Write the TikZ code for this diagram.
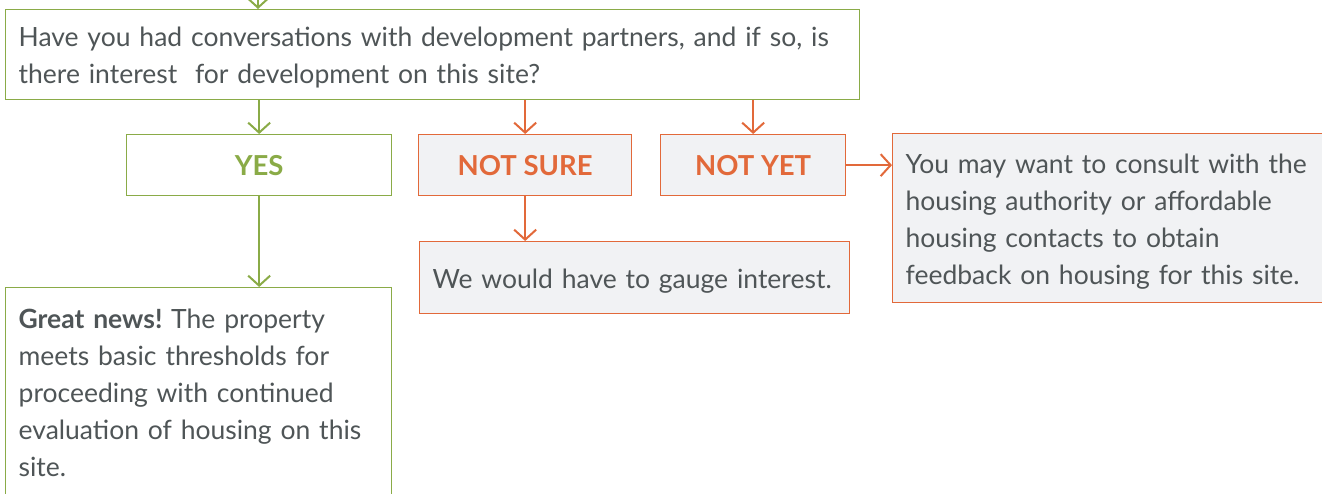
\documentclass[tikz,border=0pt]{standalone}
\usepackage{fontspec}
\setmainfont{Lato}
\usetikzlibrary{arrows.meta}
\definecolor{grn}{HTML}{8AAB47}
\definecolor{org}{HTML}{E2693A}
\definecolor{boxfill}{HTML}{F1F2F4}
\definecolor{txt}{HTML}{4F5557}
\newcommand{\topgap}{\rule{0pt}{26pt}}
\tikzset{
  gbox/.style={draw=grn, line width=1.3pt, fill=white, anchor=north west, inner sep=0pt, text=txt},
  obox/.style={draw=org, line width=1.3pt, fill=boxfill, anchor=north west, inner sep=0pt, text=txt},
  bodytext/.style={font=\fontsize{26.5}{37}\selectfont\frenchspacing, align=left},
  lbl/.style={font=\fontsize{27.5}{30}\selectfont\bfseries},
  arr/.style={line width=2pt, -{Straight Barb[length=10pt,width=22pt,line width=2pt]}},
}
\begin{document}
\begin{tikzpicture}[x=1pt,y=-1pt]
\useasboundingbox (0,0) rectangle (1322,494);
\node[gbox, bodytext, minimum width=854, minimum height=90, text width=828] (top) at (5,9)
  {\topgap Have you had conversations with development partners, and if so, is\\there interest\ \ for development on this site?};
\node[gbox, lbl, text=grn, minimum width=265, minimum height=61] (yes) at (126,134) {YES};
\node[obox, lbl, text=org, minimum width=213, minimum height=61] (ns) at (418,134) {NOT SURE};
\node[obox, lbl, text=org, minimum width=185, minimum height=61] (ny) at (660,134) {NOT YET};
\node[obox, bodytext, minimum width=430, minimum height=169, text width=404] (right) at (892,133)
  {\topgap You may want to consult with the\\housing authority or affordable\\housing contacts to obtain\\feedback on housing for this site.};
\node[obox, bodytext, minimum width=430, minimum height=72, text width=404] (gauge) at (419,241)
  {\topgap We would have to gauge interest.};
\node[gbox, bodytext, minimum width=386, minimum height=211, text width=360] (great) at (5,287)
  {\textbf{Great news!} The property\\meets basic thresholds for\\proceeding with continued\\evaluation of housing on this\\site.};
\coordinate (in) at (258,-4);
\draw[arr, grn] (in) -- (in |- top.north);
\draw[arr, grn] (top.south -| yes.north) -- (yes.north);
\draw[arr, org] (top.south -| ns.north) -- (ns.north);
\draw[arr, org] (top.south -| ny.north) -- (ny.north);
\draw[arr, grn] (yes.south) -- (yes.south |- great.north);
\draw[arr, org] (ns.south) -- (ns.south |- gauge.north);
\draw[arr, org] (ny.east) -- (ny.east -| right.west);
\end{tikzpicture}
\end{document}
